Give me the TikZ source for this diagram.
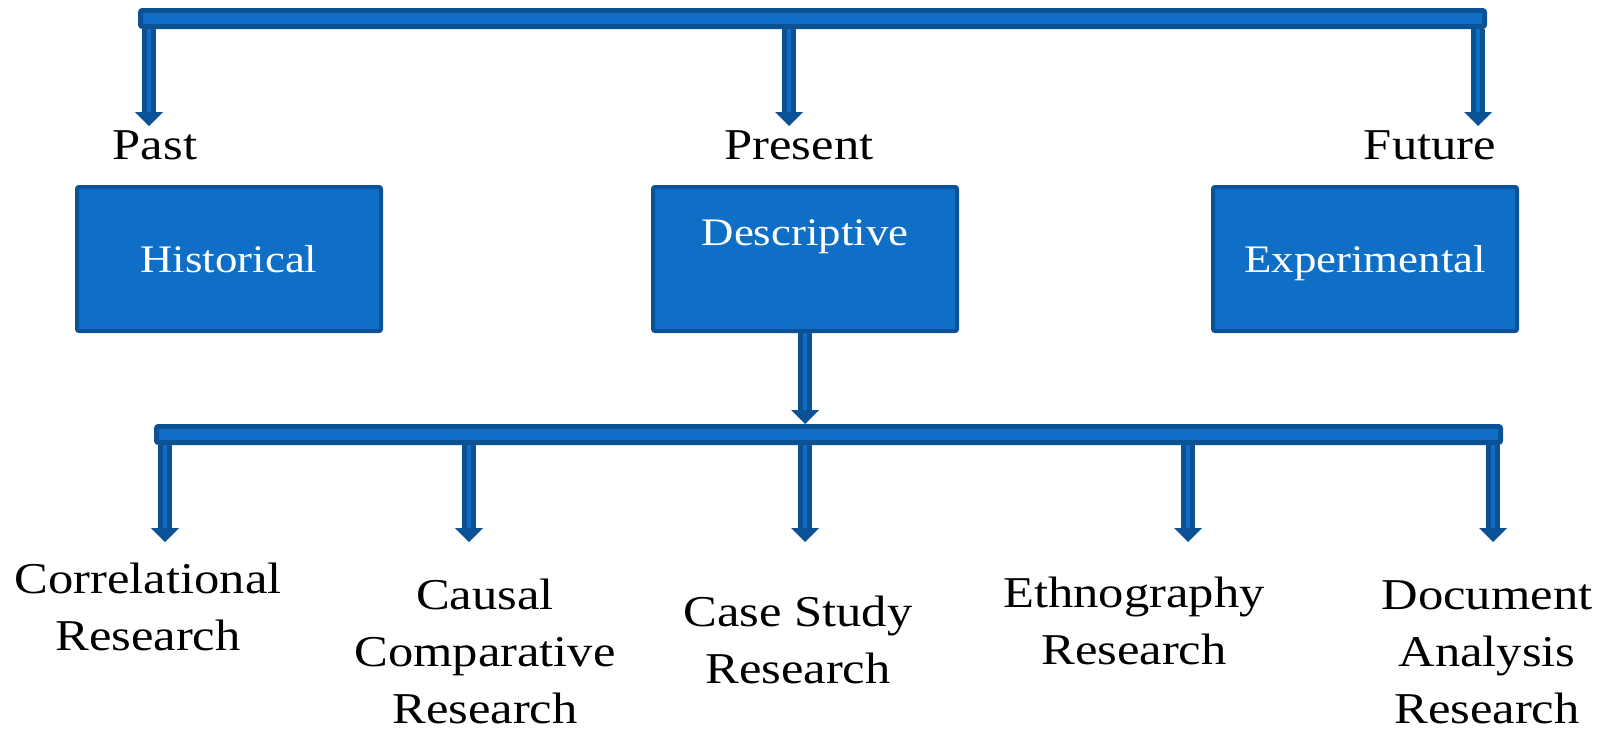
\documentclass[tikz,border=0pt]{standalone}
\usepackage{fontspec}
\setmainfont{Liberation Serif}[FakeStretch=1.15]
\usetikzlibrary{arrows.meta}
\definecolor{boxblue}{HTML}{0F6FC6}
\definecolor{edgeblue}{HTML}{0B5294}

\begin{document}
\begin{tikzpicture}[x=1pt, y=-1pt,
    bar/.style={rectangle, draw=edgeblue, fill=boxblue, line width=5pt, rounded corners=2pt, minimum height=16pt, minimum width=1344pt, inner sep=0pt},
    box/.style={rectangle, draw=edgeblue, fill=boxblue, line width=4pt, rounded corners=2pt, minimum width=304pt, minimum height=144pt, text=white, font=\fontsize{39}{47}\selectfont, text height=27pt, text depth=0pt},
    tag/.style={font=\fontsize{44}{57}\selectfont, align=center, inner sep=0pt, anchor=base},
    downarrow/.style={draw=edgeblue, line width=14pt, -{Triangle[width=28pt, length=14pt, line width=0pt]}, postaction={draw=boxblue, line width=4pt, -, shorten >=14pt}}]

      \fill[white] (0,0) rectangle (1613,731);
      \useasboundingbox (0,0) rectangle (1613,731);

      % the three kinds
      \node[box] (hist) at (229,259) {Historical};
      \node[box, text depth=55pt] (desc) at (805,259) {Descriptive};
      \node[box] (expe) at (1365,259) {Experimental};

      \node[tag] (past) at (155,159) {Past};
      \node[tag] (present) at (799,159) {Present};
      \node[tag] (future) at (1430,159) {Future};

      % bars
      \node[bar] (topbar) at (812.5,18.5) {};
      \node[bar] (lowbar) at (828.5,434.5) {};

      \coordinate (pastend) at (149,126);
      \coordinate (presentend) at (789,126);
      \coordinate (futureend) at (1478,126);

      \draw[downarrow] (topbar.south -| pastend) -- (pastend);
      \draw[downarrow] (topbar.south -| presentend) -- (presentend);
      \draw[downarrow] (topbar.south -| futureend) -- (futureend);

      \draw[downarrow] (desc.south) -- (lowbar.north -| desc.south);

      % descriptive kinds (base = last line)
      \node[tag] (correl) at (148,650) {Correlational\\Research};
      \node[tag] (causal) at (485,723) {Causal\\Comparative\\Research};
      \node[tag] (case) at (798,683) {Case Study\\Research};
      \node[tag] (ethno) at (1134,664) {Ethnography\\Research};
      \node[tag] (docu) at (1487,723) {Document\\Analysis\\Research};

      \coordinate (correlend) at (165,542);
      \coordinate (causalend) at (469,542);
      \coordinate (caseend) at (805,542);
      \coordinate (ethnoend) at (1188,542);
      \coordinate (docuend) at (1493,542);

      \draw[downarrow] (lowbar.south -| correlend) -- (correlend);
      \draw[downarrow] (lowbar.south -| causalend) -- (causalend);
      \draw[downarrow] (lowbar.south -| caseend) -- (caseend);
      \draw[downarrow] (lowbar.south -| ethnoend) -- (ethnoend);
      \draw[downarrow] (lowbar.south -| docuend) -- (docuend);
\end{tikzpicture}
\end{document}
